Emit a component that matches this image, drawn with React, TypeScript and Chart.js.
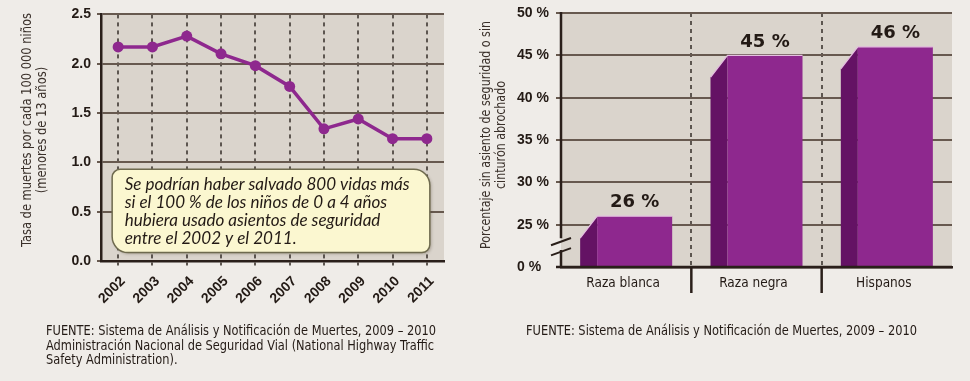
import React, { useEffect, useRef } from 'react';
import { Chart, registerables } from 'chart.js';

Chart.register(...registerables);

// ---------- data ----------
const years = ['2002', '2003', '2004', '2005', '2006', '2007', '2008', '2009', '2010', '2011'];
const deathRates = [2.17, 2.17, 2.28, 2.1, 1.98, 1.77, 1.34, 1.44, 1.24, 1.24];
const leftTickValues = [0, 0.5, 1, 1.5, 2, 2.5];
const leftTickLabels = ['0.0', '0.5', '1.0', '1.5', '2.0', '2.5'];
const leftAxisTitle = ['Tasa de muertes por cada 100 000 niños', '(menores de 13 años)'];
const noteLines = [
  'Se podrían haber salvado 800 vidas más',
  'si el 100 % de los niños de 0 a 4 años',
  'hubiera usado asientos de seguridad',
  'entre el 2002 y el 2011.',
];
const leftSource = [
  'FUENTE: Sistema de Análisis y Notificación de Muertes, 2009 – 2010',
  'Administración Nacional de Seguridad Vial (National Highway Traffic',
  'Safety Administration).',
];

const groups = ['Raza blanca', 'Raza negra', 'Hispanos'];
const unbeltedPct = [26, 45, 46];
const rightAxisBase = 20;
const rightTickValues = [20, 25, 30, 35, 40, 45, 50];
const rightTickLabels = ['0 %', '25 %', '30 %', '35 %', '40 %', '45 %', '50 %'];
const rightAxisTitle = ['Porcentaje sin asiento de seguridad o sin', 'cinturón abrochado'];
const rightSource = ['FUENTE: Sistema de Análisis y Notificación de Muertes, 2009 – 2010'];

// ---------- style ----------
const PAGE = '#efece8';
const PLOT = '#dad4cc';
const GRID = '#67594f';
const AXIS = '#2a1f1a';
const DASH = '#5d5650';
const PURPLE = '#8e288e';
const PURPLE_DARK = '#641264';
const EDGE = '#e4bfe0';
const TEXT = '#231a15';
const NOTE_FILL = '#fbf7d0';
const NOTE_STROKE = '#6e6a4e';
const BOLD = '"Liberation Sans", Arial, sans-serif';
const NARROW = '"Liberation Sans Narrow", "DejaVu Sans Condensed", "Liberation Sans", sans-serif';

function drawLines(ctx: CanvasRenderingContext2D, lines: string[], x: number, y0: number, gap: number, target: number) {
  const w = ctx.measureText(lines[0]).width;
  const sx = Math.max(0.6, Math.min(1.25, target / w));
  lines.forEach((t, i) => {
    ctx.save();
    ctx.translate(x, y0 + i * gap);
    ctx.scale(sx, 1);
    ctx.fillText(t, 0, 0);
    ctx.restore();
  });
}

function drawVTitle(ctx: CanvasRenderingContext2D, lines: string[], x0: number, cy: number, gap: number, target: number) {
  const w = ctx.measureText(lines[0]).width;
  const sx = Math.max(0.6, Math.min(1.25, target / w));
  lines.forEach((t, i) => {
    ctx.save();
    ctx.translate(x0 + i * gap, cy);
    ctx.rotate(-Math.PI / 2);
    ctx.scale(sx, 1);
    ctx.textAlign = 'center';
    ctx.textBaseline = 'middle';
    ctx.fillText(t, 0, 0);
    ctx.restore();
  });
}

const leftDecor = {
  id: 'leftDecor',
  beforeDraw(chart: any) {
    const { ctx, chartArea: a, width, height } = chart;
    ctx.save();
    ctx.fillStyle = PAGE;
    ctx.fillRect(0, 0, width, height);
    ctx.fillStyle = PLOT;
    ctx.fillRect(a.left, a.top, a.right - a.left, a.bottom - a.top);
    ctx.restore();
  },
  beforeDatasetsDraw(chart: any) {
    const { ctx } = chart;
    const xs = chart.scales.x;
    const ys = chart.scales.y;
    const x1 = xs.getPixelForValue(0) - 6;
    const x2 = xs.getPixelForValue(9) + 3;
    const y1 = ys.getPixelForValue(0.93);
    const y2 = ys.getPixelForValue(0.085);
    ctx.save();
    ctx.shadowColor = 'rgba(60,50,30,0.3)';
    ctx.shadowBlur = 3;
    ctx.shadowOffsetX = 1.5;
    ctx.shadowOffsetY = 1.5;
    ctx.beginPath();
    (ctx as any).roundRect(x1, y1, x2 - x1, y2 - y1, [8, 16, 8, 16]);
    ctx.fillStyle = NOTE_FILL;
    ctx.fill();
    ctx.shadowColor = 'transparent';
    ctx.lineWidth = 1.5;
    ctx.strokeStyle = NOTE_STROKE;
    ctx.stroke();
    ctx.fillStyle = TEXT;
    ctx.font = 'italic 17px Lato, "Open Sans", sans-serif';
    ctx.textBaseline = 'middle';
    ctx.textAlign = 'left';
    drawLines(ctx, noteLines, x1 + 12.5, y1 + 15.5, 18, 285);
    ctx.restore();
  },
  afterDraw(chart: any) {
    const { ctx } = chart;
    ctx.save();
    ctx.fillStyle = '#3a302a';
    ctx.font = '14px ' + NARROW;
    drawVTitle(ctx, leftAxisTitle, 27, 130, 15, 234);
    ctx.fillStyle = TEXT;
    ctx.font = '13.5px ' + NARROW;
    ctx.textBaseline = 'middle';
    ctx.textAlign = 'left';
    drawLines(ctx, leftSource, 46, 331.5, 14.5, 390);
    ctx.restore();
  },
};

const rightDecor = {
  id: 'rightDecor',
  beforeDraw(chart: any) {
    const { ctx, chartArea: a, width, height } = chart;
    ctx.save();
    ctx.fillStyle = PAGE;
    ctx.fillRect(0, 0, width, height);
    ctx.fillStyle = PLOT;
    ctx.fillRect(a.left, a.top, a.right - a.left, a.bottom - a.top);
    ctx.restore();
  },
  afterDatasetsDraw(chart: any) {
    const { ctx, chartArea: a } = chart;
    const meta = chart.getDatasetMeta(0);
    const depth = 17;
    const drop = 22;
    ctx.save();
    meta.data.forEach((el: any, i: number) => {
      const { x, y, base, width } = el.getProps(['x', 'y', 'base', 'width'], true);
      const left = x - width / 2;
      const right = x + width / 2;
      // side face
      ctx.beginPath();
      ctx.moveTo(left, base);
      ctx.lineTo(left, y + drop);
      ctx.lineTo(left + depth, y);
      ctx.lineTo(left + depth, base);
      ctx.closePath();
      ctx.fillStyle = PURPLE_DARK;
      ctx.fill();
      // front face
      ctx.fillStyle = PURPLE;
      ctx.fillRect(left + depth, y, right - left - depth, base - y);
      // highlight edge
      ctx.beginPath();
      ctx.moveTo(left, y + drop);
      ctx.lineTo(left + depth, y);
      ctx.lineTo(right, y);
      ctx.strokeStyle = EDGE;
      ctx.lineWidth = 1.2;
      ctx.stroke();
      // value label
      ctx.fillStyle = TEXT;
      ctx.font = 'bold 18px "DejaVu Sans", sans-serif';
      ctx.textAlign = 'center';
      ctx.textBaseline = 'middle';
      ctx.fillText(unbeltedPct[i] + ' %', (left + depth + right) / 2, y - 13.5);
    });
    // bottom axis line
    ctx.beginPath();
    ctx.moveTo(a.left - 5, a.bottom);
    ctx.lineTo(a.right, a.bottom);
    ctx.strokeStyle = AXIS;
    ctx.lineWidth = 2.5;
    ctx.stroke();
    ctx.restore();
  },
  afterDraw(chart: any) {
    const { ctx, chartArea: a } = chart;
    const xs = chart.scales.x;
    const ys = chart.scales.y;
    ctx.save();
    // broken y axis
    ctx.strokeStyle = AXIS;
    ctx.lineWidth = 2.5;
    ctx.beginPath();
    ctx.moveTo(a.left, a.top - 1);
    ctx.lineTo(a.left, ys.getPixelForValue(23.4));
    ctx.moveTo(a.left, ys.getPixelForValue(22.0));
    ctx.lineTo(a.left, a.bottom);
    ctx.stroke();
    ctx.lineWidth = 2;
    [23.0, 21.8].forEach((v) => {
      const cy = ys.getPixelForValue(v);
      ctx.beginPath();
      ctx.moveTo(a.left - 10, cy + 3.6);
      ctx.lineTo(a.left + 10, cy - 3.6);
      ctx.stroke();
    });
    // category separators below axis
    ctx.lineWidth = 2.5;
    for (let i = 1; i < groups.length; i++) {
      const sx = (xs.getPixelForValue(i - 1) + xs.getPixelForValue(i)) / 2;
      ctx.beginPath();
      ctx.moveTo(sx, a.bottom);
      ctx.lineTo(sx, a.bottom + 26);
      ctx.stroke();
    }
    ctx.fillStyle = '#3a302a';
    ctx.font = '14px ' + NARROW;
    drawVTitle(ctx, rightAxisTitle, 16.5, 135, 15, 228);
    ctx.fillStyle = TEXT;
    ctx.font = '13.5px ' + NARROW;
    ctx.textBaseline = 'middle';
    ctx.textAlign = 'left';
    drawLines(ctx, rightSource, 56, 331.5, 14.5, 391);
    ctx.restore();
  },
};

function makeLeft(canvas: HTMLCanvasElement) {
  return new Chart(canvas, {
    type: 'line',
    data: {
      labels: years,
      datasets: [
        {
          data: deathRates,
          borderColor: PURPLE,
          backgroundColor: PURPLE,
          borderWidth: 3.5,
          pointRadius: 5.5,
          pointHoverRadius: 5.5,
          pointBorderWidth: 0,
          pointBackgroundColor: PURPLE,
          tension: 0,
        },
      ],
    },
    options: {
      responsive: false,
      animation: false,
      events: [],
      layout: { padding: { top: 12, right: 16, left: 0, bottom: 0 } },
      plugins: { legend: { display: false }, tooltip: { enabled: false } },
      scales: {
        x: {
          offset: true,
          grid: {
            color: DASH,
            lineWidth: 2,
            tickLength: 6,
            tickColor: DASH,
            tickWidth: 2,
            tickBorderDash: [3, 3],
          },
          border: { display: true, color: AXIS, width: 2.5, dash: [4, 4] },
          ticks: {
            autoSkip: false,
            maxRotation: 45,
            minRotation: 45,
            padding: 6,
            labelOffset: 5,
            color: TEXT,
            font: { family: BOLD, size: 14, weight: 'bold' },
          },
          afterFit: (s: any) => {
            s.height = 120;
          },
        },
        y: {
          min: 0,
          max: 2.5,
          afterBuildTicks: (s: any) => {
            s.ticks = leftTickValues.map((v) => ({ value: v }));
          },
          grid: { color: GRID, lineWidth: 2, tickLength: 4, tickColor: GRID, tickWidth: 2 },
          border: { display: true, color: AXIS, width: 2.5 },
          ticks: {
            padding: 6,
            color: TEXT,
            font: { family: BOLD, size: 14, weight: 'bold' },
            callback: (v: any) => leftTickLabels[leftTickValues.indexOf(Number(v))],
          },
          afterFit: (s: any) => {
            s.width = 101;
          },
        },
      },
    } as any,
    plugins: [leftDecor],
  });
}

function makeRight(canvas: HTMLCanvasElement) {
  return new Chart(canvas, {
    type: 'bar',
    data: {
      labels: groups,
      datasets: [
        {
          data: unbeltedPct,
          base: rightAxisBase,
          backgroundColor: 'rgba(0,0,0,0)',
          borderWidth: 0,
          barPercentage: 0.706,
          categoryPercentage: 1,
        },
      ],
    },
    options: {
      responsive: false,
      animation: false,
      events: [],
      layout: { padding: { top: 13, right: 18, left: 47, bottom: 0 } },
      plugins: { legend: { display: false }, tooltip: { enabled: false } },
      scales: {
        x: {
          offset: true,
          grid: {
            offset: true,
            color: (c: any) => (c.index === 1 || c.index === 2 ? DASH : 'rgba(0,0,0,0)'),
            lineWidth: 2,
            drawTicks: false,
          },
          border: { display: true, color: AXIS, width: 2.5, dash: [4, 4] },
          ticks: {
            padding: 8,
            labelOffset: -3,
            color: TEXT,
            font: { family: NARROW, size: 13.5 },
          },
          afterFit: (s: any) => {
            s.height = 114;
          },
        },
        y: {
          min: rightAxisBase,
          max: 50,
          afterBuildTicks: (s: any) => {
            s.ticks = rightTickValues.map((v) => ({ value: v }));
          },
          grid: {
            color: GRID,
            lineWidth: 2,
            tickLength: 5,
            tickColor: (c: any) => (c.tick && c.tick.value === rightAxisBase ? AXIS : GRID),
            tickWidth: 2,
          },
          border: { display: false },
          ticks: {
            crossAlign: 'far',
            padding: 4,
            color: TEXT,
            font: { family: BOLD, size: 14, weight: 'bold' },
            callback: (v: any) => rightTickLabels[rightTickValues.indexOf(Number(v))],
          },
          afterFit: (s: any) => {
            s.width = 44;
          },
        },
      },
    } as any,
    plugins: [rightDecor],
  });
}

export default function App() {
  const leftRef = useRef<HTMLCanvasElement>(null);
  const rightRef = useRef<HTMLCanvasElement>(null);
  useEffect(() => {
    const l = makeLeft(leftRef.current as HTMLCanvasElement);
    const r = makeRight(rightRef.current as HTMLCanvasElement);
    return () => {
      l.destroy();
      r.destroy();
    };
  }, []);
  return (
    <div
      style={{ position: 'absolute', left: 0, top: 0, width: 970, height: 381, background: PAGE, overflow: 'hidden' }}
    >
      <canvas
        ref={leftRef}
        width={460}
        height={381}
        style={{ position: 'absolute', left: 0, top: 0, width: 460, height: 381 }}
      />
      <canvas
        ref={rightRef}
        width={500}
        height={381}
        style={{ position: 'absolute', left: 470, top: 0, width: 500, height: 381 }}
      />
    </div>
  );
}
